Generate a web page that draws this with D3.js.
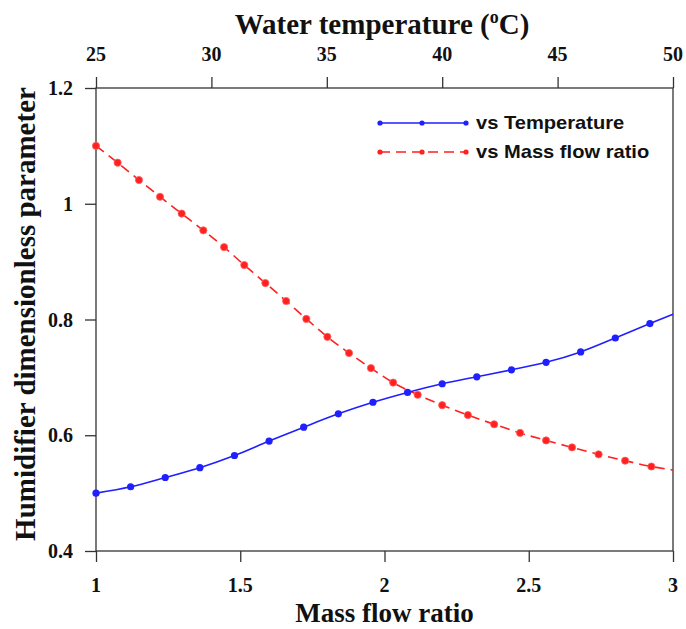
<!DOCTYPE html>
<html>
<head>
<meta charset="utf-8">
<script src="https://cdn.jsdelivr.net/npm/d3@7"></script>
<style>
  html, body { margin: 0; padding: 0; background: #fff; }
  svg { display: block; }
</style>
</head>
<body>
<svg id="chart" width="686" height="629"></svg>
<script>
// ---- Data ----
const tempX = [25, 26.5, 28, 29.5, 31, 32.5, 34, 35.5, 37, 38.5, 40, 41.5, 43, 44.5, 46, 47.5, 49, 50];
const tempY = [0.500, 0.511, 0.527, 0.544, 0.565, 0.590, 0.614, 0.637, 0.657, 0.674, 0.689, 0.701, 0.713, 0.726, 0.744, 0.768, 0.793, 0.809];
const tempMarker = [1,1,1,1,1,1,1,1,1,1,1,1,1,1,1,1,1,0];

const mfrX = [1.000, 1.075, 1.149, 1.222, 1.297, 1.372, 1.444, 1.514, 1.587, 1.659, 1.729, 1.802, 1.877, 1.953, 2.030, 2.115, 2.200, 2.289, 2.380, 2.470, 2.560, 2.650, 2.742, 2.834, 2.925, 3.000];
const mfrY = [1.100, 1.071, 1.041, 1.012, 0.983, 0.954, 0.925, 0.894, 0.863, 0.832, 0.801, 0.770, 0.742, 0.716, 0.691, 0.670, 0.652, 0.635, 0.619, 0.604, 0.591, 0.579, 0.567, 0.556, 0.546, 0.540];
const mfrMarker = [1,1,1,1,1,1,1,1,1,1,1,1,1,1,1,1,1,1,1,1,1,1,1,1,1,0];

const bottomTicks = [1, 1.5, 2, 2.5, 3];
const topTicks = [25, 30, 35, 40, 45, 50];
const leftTicks = [0.4, 0.6, 0.8, 1, 1.2];

const seriesNames = ["vs Temperature", "vs Mass flow ratio"];
const titles = { x: "Mass flow ratio", y: "Humidifier dimensionless parameter", top: "Water temperature (" };

// ---- Layout ----
const L = 96, R = 673, T = 88, B = 551;
const blue = "#1f1fff", red = "#ff2020";
const serif = "'Liberation Serif', 'Times New Roman', serif";
const sans = "'Liberation Sans', Arial, sans-serif";

const svg = d3.select("#chart");
const x = d3.scaleLinear().domain([1, 3]).range([L, R]);
const xt = d3.scaleLinear().domain([25, 50]).range([L, R]);
const y = d3.scaleLinear().domain([0.4, 1.2]).range([B, T]);

const axisColor = "#333";

svg.append("rect").attr("x", L).attr("y", T).attr("width", R - L).attr("height", B - T)
  .attr("fill", "none").attr("stroke", axisColor).attr("stroke-width", 1.3);

function styleAxis(g) {
  g.select(".domain").remove();
  g.selectAll(".tick line").attr("stroke", axisColor).attr("stroke-width", 1.3);
  g.selectAll(".tick text").remove();
}

svg.append("g").attr("transform", `translate(0,${B})`)
  .call(d3.axisBottom(x).tickValues(bottomTicks).tickSize(11)).call(styleAxis);
svg.append("g").attr("transform", `translate(0,${T})`)
  .call(d3.axisTop(xt).tickValues(topTicks).tickSize(11)).call(styleAxis);
svg.append("g").attr("transform", `translate(${L},0)`)
  .call(d3.axisLeft(y).tickValues(leftTicks).tickSize(11)).call(styleAxis);

function label(px, py, str, size, anchor, baseline) {
  return svg.append("text")
    .attr("x", px).attr("y", py)
    .attr("font-family", serif)
    .attr("font-weight", "bold")
    .attr("font-size", size)
    .attr("text-anchor", anchor || "middle")
    .attr("dominant-baseline", baseline || "auto")
    .attr("fill", "#111")
    .text(str);
}

// tick labels
bottomTicks.forEach(v => label(x(v), 592, String(v), 20));
topTicks.forEach(v => label(xt(v), 61, String(v), 20));
leftTicks.forEach(v => label(73, y(v), String(v), 20, "end", "central"));

// titles
label((L + R) / 2, 622, titles.x, 27);
{
  const t = label(382, 34, titles.top, 29);
  t.append("tspan").attr("font-size", 18).attr("dy", -11).text("o");
  t.append("tspan").attr("dy", 11).text("C)");
}
svg.append("text")
  .attr("transform", `translate(35,314) rotate(-90)`)
  .attr("font-family", serif).attr("font-weight", "bold").attr("font-size", 29)
  .attr("text-anchor", "middle").attr("fill", "#111")
  .text(titles.y);

// ---- Series ----
const tempData = tempX.map((v, i) => ({ x: v, y: tempY[i], m: tempMarker[i] }));
const mfrData = mfrX.map((v, i) => ({ x: v, y: mfrY[i], m: mfrMarker[i] }));

const plot = svg.append("g");

const lineT = d3.line().x(d => xt(d.x)).y(d => y(d.y)).curve(d3.curveMonotoneX);
const lineM = d3.line().x(d => x(d.x)).y(d => y(d.y)).curve(d3.curveMonotoneX);

plot.append("path").datum(mfrData).attr("d", lineM)
  .attr("fill", "none").attr("stroke", red).attr("stroke-width", 1.6)
  .attr("stroke-dasharray", "10,6");
plot.append("path").datum(tempData).attr("d", lineT)
  .attr("fill", "none").attr("stroke", blue).attr("stroke-width", 1.6);

plot.selectAll(".mM").data(mfrData.filter(d => d.m)).enter().append("circle")
  .attr("cx", d => x(d.x)).attr("cy", d => y(d.y)).attr("r", 3.6)
  .attr("fill", red).attr("stroke", "#ff6060").attr("stroke-width", 0.8);
plot.selectAll(".mT").data(tempData.filter(d => d.m)).enter().append("circle")
  .attr("cx", d => xt(d.x)).attr("cy", d => y(d.y)).attr("r", 3.6)
  .attr("fill", blue);

// ---- Legend ----
const legend = svg.append("g");
const legY = [123, 152];
const legColors = [blue, red];
const legDash = [null, "10,6"];
seriesNames.forEach((name, i) => {
  legend.append("line").attr("x1", 380).attr("x2", 466).attr("y1", legY[i]).attr("y2", legY[i])
    .attr("stroke", legColors[i]).attr("stroke-width", 1.6)
    .attr("stroke-dasharray", legDash[i]);
  [380, 422, 466].forEach(cx => legend.append("circle").attr("cx", cx).attr("cy", legY[i])
    .attr("r", 2.6).attr("fill", legColors[i]));
  legend.append("text")
    .attr("transform", `translate(476,${legY[i]}) scale(1.15,1)`)
    .attr("font-family", sans).attr("font-weight", "bold").attr("font-size", 17.5)
    .attr("dominant-baseline", "central").attr("fill", "#111")
    .text(name);
});
</script>
</body>
</html>
